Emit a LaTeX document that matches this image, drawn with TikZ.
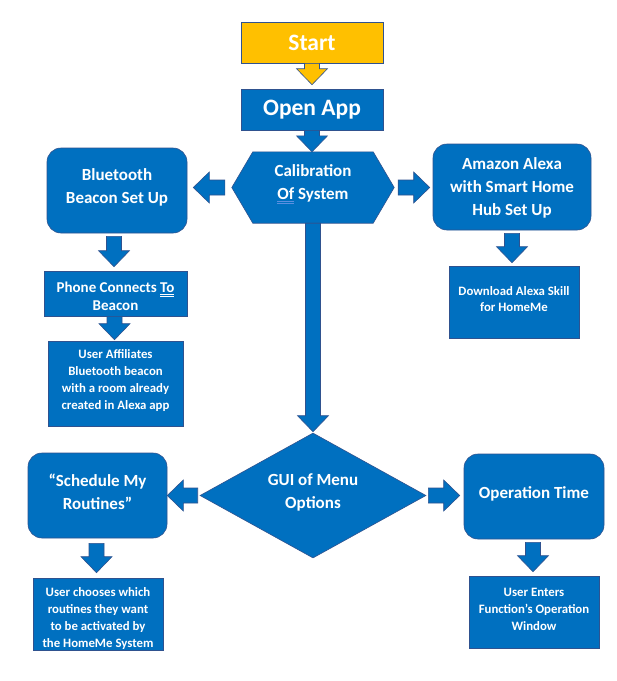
\documentclass[tikz,border=0pt]{standalone}
\usepackage{fontspec}
\setmainfont{Carlito}
\usetikzlibrary{calc,shapes.geometric,backgrounds}
\definecolor{boxblue}{HTML}{0070C0}
\definecolor{startgold}{HTML}{FFC000}
\definecolor{edgeblue}{HTML}{2F528F}
\definecolor{markblue}{HTML}{5B8FE0}
\newcommand{\dul}[1]{\underline{\underline{#1}}}
\tikzset{
  flowbox/.style={draw=edgeblue, line width=0.6pt, fill=boxblue, inner sep=0pt},
  roundbox/.style={flowbox, rounded corners=14pt},
  boxtext/.style={text=white, align=center, inner sep=0pt},
  bigfont/.style={font=\fontsize{23.5}{28}\selectfont\bfseries},
  midfont/.style={font=\fontsize{17}{23}\selectfont\bfseries},
  smallfont/.style={font=\fontsize{12.8}{16.8}\selectfont\bfseries},
  arr/.style={fill=boxblue, draw=edgeblue, line width=0.6pt},
  darr/.style={arr, to path={let \p1=(\tikztostart), \p2=(\tikztotarget) in
    (\x1-7.5pt,\y1) -- (\x1-7.5pt,\y2+16pt) -- (\x1-15.5pt,\y2+16pt) -- (\x1,\y2)
    -- (\x1+15.5pt,\y2+16pt) -- (\x1+7.5pt,\y2+16pt) -- (\x1+7.5pt,\y1) -- cycle}},
  larr/.style={arr, to path={let \p1=(\tikztostart), \p2=(\tikztotarget) in
    (\x1,\y1+7.5pt) -- (\x2+16pt,\y1+7.5pt) -- (\x2+16pt,\y1+15.5pt) -- (\x2,\y1)
    -- (\x2+16pt,\y1-15.5pt) -- (\x2+16pt,\y1-7.5pt) -- (\x1,\y1-7.5pt) -- cycle}},
  rarr/.style={arr, to path={let \p1=(\tikztostart), \p2=(\tikztotarget) in
    (\x1,\y1+7.5pt) -- (\x2-16pt,\y1+7.5pt) -- (\x2-16pt,\y1+15.5pt) -- (\x2,\y1)
    -- (\x2-16pt,\y1-15.5pt) -- (\x2-16pt,\y1-7.5pt) -- (\x1,\y1-7.5pt) -- cycle}}
}
\begin{document}
\begin{tikzpicture}[x=1pt, y=-1pt]
\begin{scope}[on background layer]
\fill[white] (0,0) rectangle (617,681);
\end{scope}
% top of the flow
\node[flowbox, boxtext, bigfont, fill=startgold, minimum width=142pt, minimum height=41pt] (start) at (312,42.5) {Start};
\node[flowbox, boxtext, bigfont, minimum width=142pt, minimum height=41pt] (open) at (312,109.5) {Open App};
\node[minimum width=162pt, minimum height=71pt, inner sep=0pt,
  label={[boxtext, midfont, yshift=3pt]center:{Calibration\\\rlap{\color{markblue}\dul{\phantom{Of}}}Of System}}] (calib) at (313,187.5) {};
\begin{scope}[on background layer]
\filldraw[arr] (calib.west) -- ([xshift=21pt]calib.north west) -- ([xshift=-21pt]calib.north east)
  -- (calib.east) -- ([xshift=-21pt]calib.south east) -- ([xshift=21pt]calib.south west) -- cycle;
\end{scope}
% left branch
\node[roundbox, minimum width=140pt, minimum height=85pt,
  label={[boxtext, midfont, yshift=3.5pt]center:{Bluetooth\\Beacon Set Up}}] (bt) at (117,190.5) {};
\node[flowbox, minimum width=143pt, minimum height=45pt,
  label={[boxtext, font=\fontsize{15}{18}\selectfont\bfseries, yshift=-3pt]center:{Phone Connects \dul{To}\\Beacon}}] (phone) at (115.5,293.5) {};
\node[flowbox, minimum width=135pt, minimum height=85pt,
  label={[boxtext, smallfont, yshift=3pt]center:{User Affiliates\\Bluetooth beacon\\with a room already\\created in Alexa app}}] (aff) at (115.5,383.5) {};
% right branch
\node[roundbox, minimum width=158pt, minimum height=86pt,
  label={[boxtext, midfont, yshift=-1pt]center:{Amazon Alexa\\with Smart Home\\Hub Set Up}}] (amz) at (512,187) {};
\node[flowbox, minimum width=130pt, minimum height=72pt,
  label={[boxtext, smallfont, yshift=3pt]center:{Download Alexa Skill\\for HomeMe}}] (dl) at (514,302) {};
% menu
\node[flowbox, diamond, aspect=1.81, minimum width=226pt, minimum height=125pt,
  label={[boxtext, midfont, yshift=3pt]center:{GUI of Menu\\Options}}] (gui) at (313,495.5) {};
\node[roundbox, minimum width=139pt, minimum height=85pt,
  label={[boxtext, midfont, yshift=4pt]center:{“Schedule My\\Routines”}}] (sched) at (97.5,495.5) {};
\node[roundbox, minimum width=140pt, minimum height=85pt,
  label={[boxtext, midfont, yshift=3pt]center:Operation Time}] (optime) at (534,496.5) {};
\node[flowbox, minimum width=130pt, minimum height=72pt,
  label={[boxtext, smallfont, yshift=-4.5pt]center:{User chooses which\\routines they want\\to be activated by\\the HomeMe System}}] (choose) at (98,614) {};
\node[flowbox, minimum width=130pt, minimum height=72pt,
  label={[boxtext, smallfont, yshift=2.5pt]center:{User Enters\\Function’s Operation\\Window}}] (enters) at (534,612) {};
% block arrows
\filldraw[darr, fill=startgold] (start.south) to ([yshift=4pt]open.north);
\filldraw[darr] (open.south) to (calib.north);
\filldraw[larr] ([xshift=-7pt]calib.west) to ([xshift=6pt]bt.east);
\filldraw[rarr] ([xshift=4pt]calib.east) to ([xshift=-3pt]amz.west);
\filldraw[darr] ([xshift=-3pt,yshift=-3pt]bt.south) to ([yshift=4pt]phone.north);
\filldraw[darr] ([xshift=-1pt]phone.south) to ([yshift=1pt]aff.north);
\filldraw[darr] ([yshift=-3pt]amz.south) to ([yshift=3pt]dl.north);
\filldraw[darr] (calib.south) to ([yshift=1pt]gui.north);
\filldraw[larr] ([xshift=-2pt]gui.west) to (sched.east);
\filldraw[rarr] ([xshift=2pt]gui.east) to ([xshift=-4pt]optime.west);
\filldraw[darr] ([xshift=-1pt,yshift=-5pt]sched.south) to ([yshift=5pt]choose.north);
\filldraw[darr] ([xshift=-1pt,yshift=-3pt]optime.south) to ([yshift=4pt]enters.north);
\end{tikzpicture}
\end{document}
